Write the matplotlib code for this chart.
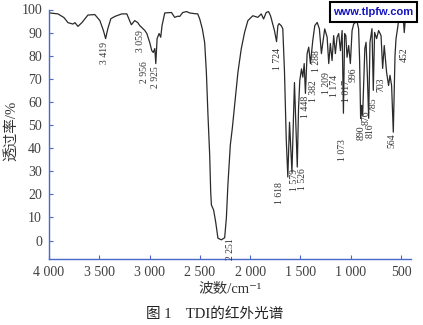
import matplotlib
matplotlib.use("Agg")
import matplotlib.pyplot as plt
from matplotlib.patches import Rectangle

plt.rcParams['font.family'] = ['Liberation Serif', 'Noto Sans CJK SC', 'DejaVu Sans']

# spectrum trace (wavenumber cm-1, transmittance %)
wavenumber = [3990, 3911, 3851, 3811, 3762, 3742, 3712, 3673, 3613, 3544,
              3494, 3459, 3437, 3415, 3385, 3345, 3276, 3226, 3206, 3181,
              3147, 3117, 3097, 3077, 3047, 3027, 2998, 2978, 2963, 2948,
              2938, 2925, 2905, 2889, 2876, 2849, 2782, 2750, 2720, 2700,
              2670, 2631, 2601, 2551, 2521, 2501, 2475, 2452, 2435, 2419,
              2402, 2392, 2385, 2363, 2343, 2320, 2286, 2253, 2236, 2221,
              2197, 2177, 2154, 2121, 2088, 2055, 2022, 1973, 1923, 1889,
              1866, 1840, 1817, 1797, 1784, 1758, 1737, 1724, 1712, 1691,
              1675, 1658, 1641, 1625, 1608, 1584, 1559, 1531, 1519, 1506,
              1489, 1476, 1462, 1450, 1433, 1417, 1400, 1377, 1357, 1333,
              1311, 1291, 1278, 1258, 1234, 1218, 1202, 1185, 1169, 1152,
              1135, 1119, 1102, 1085, 1072, 1060, 1048, 1036, 1020, 1003,
              986, 970, 953, 939, 921, 911, 901, 891, 881, 869,
              859, 847, 834, 821, 808, 788, 775, 762, 742, 722,
              698, 682, 666, 643, 623, 609, 593, 576, 559, 549,
              534, 517, 500, 484, 467, 450, 418]
transmittance = [98.5, 98.1, 96.5, 94.3, 93.7, 94.3, 92.7, 94.3, 97.6, 97.8,
                 95.2, 90.9, 87.4, 91.7, 96.0, 97.0, 98.1, 98.1, 96.0, 93.4,
                 95.2, 94.3, 93.0, 92.2, 90.9, 89.6, 85.7, 82.2, 81.4, 83.1,
                 76.6, 87.4, 89.6, 88.0, 93.0, 98.5, 98.7, 96.6, 97.1, 97.0,
                 98.7, 99.1, 98.5, 98.2, 98.1, 95.9, 91.6, 85.7, 72.9, 54.2,
                 37.0, 21.1, 15.4, 13.2, 8.2, 1.0, 0.3, 1.2, 9.8, 24.0,
                 41.3, 48.6, 58.5, 72.9, 83.0, 90.1, 95.2, 97.3, 96.6, 98.1,
                 95.9, 98.7, 99.1, 97.3, 95.2, 90.9, 86.1, 93.0, 93.9, 93.0,
                 91.7, 72.9, 44.3, 27.5, 51.2, 29.6, 68.4, 31.8, 56.4, 69.3,
                 74.3, 70.7, 76.6, 63.7, 80.9, 83.7, 76.6, 86.5, 93.0, 94.4,
                 91.6, 80.9, 85.3, 91.6, 88.0, 76.6, 85.3, 77.9, 88.7, 80.9,
                 88.0, 89.6, 82.2, 90.9, 55.1, 89.6, 88.7, 79.3, 84.4, 76.6,
                 90.9, 93.7, 94.4, 95.2, 91.7, 77.9, 52.9, 58.5, 54.2, 69.3,
                 83.1, 85.8, 71.5, 52.9, 85.8, 91.7, 65.0, 90.1, 87.4, 90.9,
                 88.7, 74.5, 84.4, 72.9, 67.1, 71.5, 67.1, 46.9, 80.1, 87.4,
                 91.7, 97.3, 98.7, 100.9, 90.0, 99.5, 101.6]

# peak labels
peak_text = ["3 419", "3 059", "2 956", "2 925", "2 251", "1 724", "1 618",
             "1 579", "1 526", "1 448", "1 382", "1 288", "1 209", "1 174",
             "1 073", "1 017", "996", "890", "876", "816", "785", "703",
             "564", "452"]
peak_wn = [3444, 3087, 3047, 2938, 2197, 1732, 1708, 1559, 1479, 1450,
           1370, 1340, 1236, 1162, 1083, 1038, 973, 894, 844, 805,
           775, 696, 586, 467]
peak_top = [86.0, 91.0, 77.5, 75.5, 1.0, 83.5, 25.3, 31.0, 31.3, 62.8,
            69.3, 82.2, 72.8, 71.5, 44.0, 69.3, 74.9, 49.9, 56.4, 50.7,
            62.0, 70.6, 46.4, 83.5]

xticks = [4000, 3500, 3000, 2500, 2000, 1500, 1000, 500]
xtick_labels = ["4 000", "3 500", "3 000", "2 500", "2 000", "1 500", "1 000", "500"]
yticks = [0, 10, 20, 30, 40, 50, 60, 70, 80, 90, 100]

axis_blue = '#4a68c8'

fig = plt.figure(figsize=(4.23, 3.25), dpi=100)
ax = fig.add_axes([49 / 423, 1 - 259 / 325, 362 / 423, 249.5 / 325])

ax.plot(wavenumber, transmittance, color='#2a2a2a', lw=0.9, clip_on=False)

for txt, w, t in zip(peak_text, peak_wn, peak_top):
    ax.text(w, t, txt, rotation=90, ha='center', va='top', fontsize=7,
            color='#333333')

ax.set_xlim(4000, 400)
ax.set_ylim(-8, 100)
ax.set_xticks(xticks)
ax.set_xticklabels(xtick_labels)
ax.set_yticks(yticks)

for side in ['top', 'right']:
    ax.spines[side].set_visible(False)
for side in ['left', 'bottom']:
    ax.spines[side].set_color(axis_blue)
    ax.spines[side].set_linewidth(1.0)
ax.tick_params(direction='in', length=3, width=0.8, color=axis_blue,
               labelsize=10, labelcolor='#404040', pad=5)

fig.text(11 / 423, 1 - 131 / 325, "透过率/%", rotation=90, ha='center',
         va='center', fontsize=10.5, color='#333333')
ax.set_xlabel("波数/cm⁻¹", fontsize=10.5, color='#333333', labelpad=3)

fig.text(215 / 423, 1 - 314 / 325, "图 1    TDI的红外光谱", ha='center',
         va='center', fontsize=10.5, color='#222222')

# watermark
fig.patches.append(Rectangle((330 / 423, 1 - 22 / 325), 87 / 423, 20 / 325,
                             transform=fig.transFigure, facecolor='white',
                             edgecolor='black', lw=1.5, zorder=5))
fig.text(373.5 / 423, 1 - 12 / 325, "www.tlpfw.com", ha='center', va='center',
         fontsize=8, fontweight='bold', color='#1414c0',
         family='Liberation Sans', zorder=6)

fig.savefig("out.png", dpi=100)
